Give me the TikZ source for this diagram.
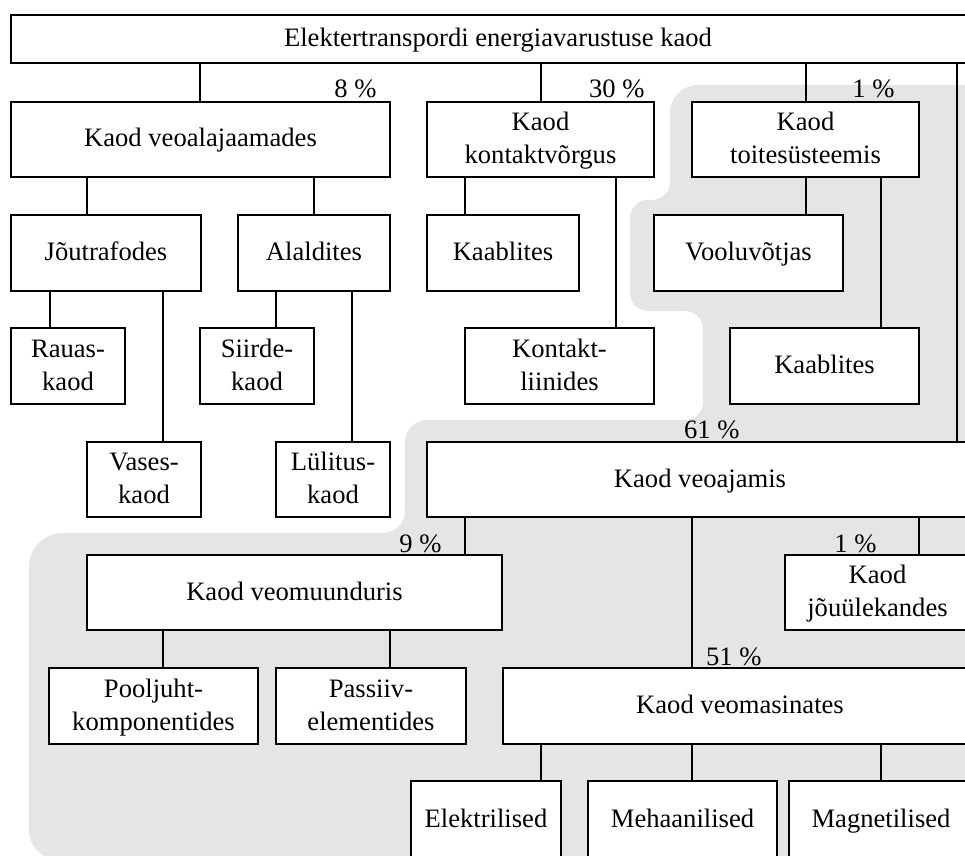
\documentclass[tikz,border=0pt]{standalone}
\usepackage{fontspec}
\setmainfont{Liberation Serif}
% uniform line height (10.5pt) and depth (3pt) for every line of box text
\newcommand{\tstrut}{\rule[-3pt]{0pt}{13.5pt}}
\begin{document}
\begin{tikzpicture}[x=0.5pt,y=-0.5pt,
  every node/.style={font=\fontsize{13.3pt}{16.5pt}\selectfont},
  box/.style={draw, fill=white, line width=0.9pt, inner sep=0pt, outer sep=0pt,
    anchor=center},
  % box spanning the corners (x1,y1) and (x2,y2), given in units of the picture
  span/.style n args={4}{minimum width={(#3-#1)*0.5pt}, minimum height={(#4-#2)*0.5pt},
    at={({(#1+#3)/2},{(#2+#4)/2})}},
  two/.style={align=center},
  link/.style={line width=0.9pt},
  pct/.style={anchor=base east, inner sep=0pt},
  shade/.style={fill=black!10}]
\useasboundingbox (0,0) rectangle (965,856);
\clip (0,0) rectangle (965,856);

% shaded area: supply system and traction drive
\fill[shade] (29,700) [rounded corners=17pt] -- (29,533) -- (200,533)
  [rounded corners=11pt] -- (405,533) -- (405,420) -- (600,420)
  [rounded corners=9pt] -- (703,420) -- (703,311) -- (630,311) -- (630,200)
  -- (670,200) -- (670,140)
  [rounded corners=14pt] -- (670,85) -- (1000,85) -- (1000,860)
  [rounded corners=15pt] -- (29,860) -- cycle;

% boxes
\node[box, span={11}{15}{985}{63}] (top) {\tstrut Elektertranspordi energiavarustuse kaod};

\node[box, span={11}{102}{390}{177}] (veoal) {\tstrut Kaod veoalajaamades};
\node[box, two, span={427}{102}{654}{177}] (kontakt) {\tstrut Kaod\\\tstrut kontaktvõrgus};
\node[box, two, span={692}{102}{919}{177}] (toite) {\tstrut Kaod\\\tstrut toitesüsteemis};

\node[box, span={11}{215}{201}{291}] (jou) {\tstrut Jõutrafodes};
\node[box, span={238}{215}{390}{291}] (alal) {\tstrut Alaldites};
\node[box, span={427}{215}{579}{291}] (kaabla) {\tstrut Kaablites};
\node[box, span={654}{215}{843}{291}] (voolu) {\tstrut Vooluvõtjas};

\node[box, two, span={11}{328}{125}{404}] (rauas) {\tstrut Rauas-\\\tstrut kaod};
\node[box, two, span={200}{328}{314}{404}] (siirde) {\tstrut Siirde-\\\tstrut kaod};
\node[box, two, span={465}{328}{654}{404}] (kliin) {\tstrut Kontakt-\\\tstrut liinides};
\node[box, span={730}{328}{919}{404}] (kaablb) {\tstrut Kaablites};

\node[box, two, span={87}{442}{201}{517}] (vases) {\tstrut Vases-\\\tstrut kaod};
\node[box, two, span={276}{442}{390}{517}] (lulit) {\tstrut Lülitus-\\\tstrut kaod};
\node[box, span={427}{442}{973}{517}] (veoaj) {\tstrut Kaod veoajamis};

\node[box, span={87}{555}{502}{630}] (muund) {\tstrut Kaod veomuunduris};
\node[box, two, span={785}{555}{970}{630}] (joul) {\tstrut Kaod\\\tstrut jõuülekandes};

\node[box, two, span={49}{668}{258}{744}] (pool) {\tstrut Pooljuht-\\\tstrut komponentides};
\node[box, two, span={276}{668}{466}{744}] (pass) {\tstrut Passiiv-\\\tstrut elementides};
\node[box, span={503}{668}{977}{744}] (masin) {\tstrut Kaod veomasinates};

\node[box, span={411}{781}{561}{858}] (elek) {\tstrut Elektrilised};
\node[box, span={588}{781}{777}{858}] (meh) {\tstrut Mehaanilised};
\node[box, span={789}{781}{973}{858}] (magn) {\tstrut Magnetilised};

% connectors
\draw[link] (top.south -| 200,0) -- (veoal.north -| 200,0);
\draw[link] (top.south -| 541,0) -- (kontakt.north -| 541,0);
\draw[link] (top.south -| 806,0) -- (toite.north -| 806,0);
\draw[link] (top.south -| 957,0) -- (veoaj.north -| 957,0);

\draw[link] (veoal.south -| 87,0) -- (jou.north -| 87,0);
\draw[link] (veoal.south -| 314,0) -- (alal.north -| 314,0);
\draw[link] (jou.south -| 50,0) -- (rauas.north -| 50,0);
\draw[link] (jou.south -| 163,0) -- (vases.north -| 163,0);
\draw[link] (alal.south -| 276,0) -- (siirde.north -| 276,0);
\draw[link] (alal.south -| 352,0) -- (lulit.north -| 352,0);

\draw[link] (kontakt.south -| 465,0) -- (kaabla.north -| 465,0);
\draw[link] (kontakt.south -| 616,0) -- (kliin.north -| 616,0);
\draw[link] (toite.south -| 806,0) -- (voolu.north -| 806,0);
\draw[link] (toite.south -| 881,0) -- (kaablb.north -| 881,0);

\draw[link] (veoaj.south -| 465,0) -- (muund.north -| 465,0);
\draw[link] (veoaj.south -| 692,0) -- (masin.north -| 692,0);
\draw[link] (veoaj.south -| 919,0) -- (joul.north -| 919,0);

\draw[link] (muund.south -| 163,0) -- (pool.north -| 163,0);
\draw[link] (muund.south -| 390,0) -- (pass.north -| 390,0);

\draw[link] (masin.south -| 541,0) -- (elek.north -| 541,0);
\draw[link] (masin.south -| 692,0) -- (meh.north -| 692,0);
\draw[link] (masin.south -| 881,0) -- (magn.north -| 881,0);

% shares
\node[pct] (p8) at (377,98) {8 \%};
\node[pct] (p30) at (645,98) {30 \%};
\node[pct] (p1a) at (895,98) {1 \%};
\node[pct] (p61) at (740,438) {61 \%};
\node[pct] (p9) at (442,552) {9 \%};
\node[pct] (p1b) at (877,552) {1 \%};
\node[pct] (p51) at (762,665) {51 \%};
\end{tikzpicture}
\end{document}
